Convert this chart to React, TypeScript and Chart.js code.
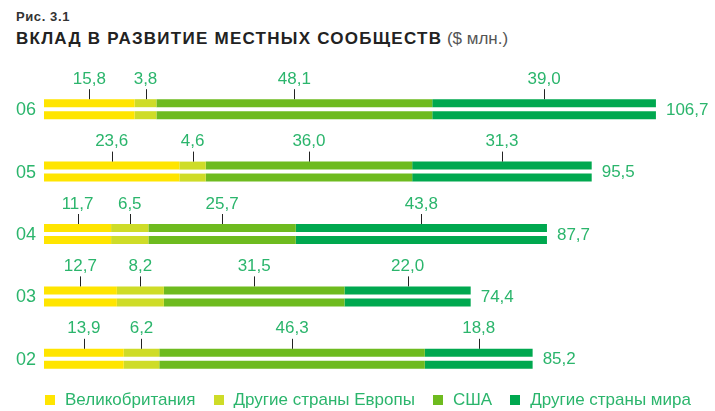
import React, { useEffect, useRef } from "react";
import { Chart, registerables } from "chart.js";

Chart.register(...registerables);

const categories = ["06", "05", "04", "03", "02"];
const seriesNames = ["Великобритания", "Другие страны Европы", "США", "Другие страны мира"];
const ukValues = [15.8, 23.6, 11.7, 12.7, 13.9];
const europeValues = [3.8, 4.6, 6.5, 8.2, 6.2];
const usaValues = [48.1, 36.0, 25.7, 31.5, 46.3];
const worldValues = [39.0, 31.3, 43.8, 22.0, 18.8];
const totals = [106.7, 95.5, 87.7, 74.4, 85.2];

const seriesValues = [ukValues, europeValues, usaValues, worldValues];
const seriesColors = ["#FFE500", "#CEDC28", "#6EBB1F", "#00A84F"];
const TEXT_GREEN = "#2BB56C";
const FONT = "'Liberation Sans', Arial, sans-serif";

const fmt = (v: number) => v.toFixed(1).replace(".", ",");

const labelPlugin = {
  id: "labelPlugin",
  afterDatasetsDraw(chart: any) {
    const ctx = chart.ctx;
    ctx.save();
    for (let s = 0; s < seriesValues.length; s++) {
      const meta = chart.getDatasetMeta(s);
      meta.data.forEach((bar: any, i: number) => {
        const { x, base, y, height } = bar.getProps(["x", "base", "y", "height"], true);
        const cx = (x + base) / 2;
        const top = y - height / 2;
        ctx.strokeStyle = "#222";
        ctx.lineWidth = 1;
        ctx.beginPath();
        ctx.moveTo(Math.round(cx) + 0.5, top - 10);
        ctx.lineTo(Math.round(cx) + 0.5, top);
        ctx.stroke();
        ctx.fillStyle = TEXT_GREEN;
        ctx.font = `17px ${FONT}`;
        ctx.textAlign = "center";
        ctx.textBaseline = "middle";
        ctx.fillText(fmt(seriesValues[s][i]), cx, top - 20);
      });
    }
    const yScale = chart.scales.y;
    const xScale = chart.scales.x;
    categories.forEach((cat, i) => {
      const cy = yScale.getPixelForValue(i);
      ctx.fillStyle = TEXT_GREEN;
      ctx.font = `17px ${FONT}`;
      ctx.textAlign = "left";
      ctx.textBaseline = "middle";
      ctx.fillText(fmt(totals[i]), xScale.getPixelForValue(totals[i]) + 10, cy + 1);
      ctx.font = `18px ${FONT}`;
      ctx.textAlign = "right";
      ctx.fillText(cat, 36, cy + 1);
    });
    ctx.restore();
  },
};

export default function App() {
  const canvasRef = useRef<HTMLCanvasElement>(null);

  useEffect(() => {
    document.body.style.margin = "0";
    const datasets: any[] = [];
    ["a", "b"].forEach((stack) => {
      seriesValues.forEach((vals, s) => {
        datasets.push({
          label: seriesNames[s],
          data: vals,
          backgroundColor: seriesColors[s],
          borderWidth: 0,
          stack,
        });
      });
    });
    const chart = new Chart(canvasRef.current!, {
      type: "bar",
      data: { labels: categories, datasets },
      options: {
        indexAxis: "y",
        animation: false,
        responsive: false,
        maintainAspectRatio: false,
        layout: { padding: { left: 44, right: 0, top: 78, bottom: 21 } },
        datasets: { bar: { categoryPercentage: 0.3846, barPercentage: 0.6667 } },
        scales: {
          x: { stacked: true, min: 0, max: 117, display: false },
          y: { display: false },
        },
        plugins: {
          legend: { display: false },
          tooltip: { enabled: false },
        },
      } as any,
      plugins: [labelPlugin],
    });
    return () => chart.destroy();
  }, []);

  return (
    <div style={{ position: "relative", width: 715, height: 411, background: "#fff", fontFamily: FONT }}>
      <div style={{ position: "absolute", left: 16, top: 9, fontSize: 13, fontWeight: "bold", color: "#333", letterSpacing: 0.6 }}>
        Рис. 3.1
      </div>
      <div style={{ position: "absolute", left: 16, top: 29, fontSize: 17, whiteSpace: "nowrap" }}>
        <span style={{ fontWeight: "bold", color: "#222", letterSpacing: 1.25 }}>ВКЛАД В РАЗВИТИЕ МЕСТНЫХ СООБЩЕСТВ</span>
        <span style={{ color: "#555" }}> ($ млн.)</span>
      </div>
      <canvas ref={canvasRef} width={715} height={411} style={{ position: "absolute", left: 0, top: 0 }} />
      <div style={{ position: "absolute", left: 45, top: 390, display: "flex", alignItems: "center", whiteSpace: "nowrap" }}>
        {seriesNames.map((name, i) => (
          <div key={name} style={{ display: "flex", alignItems: "center", marginRight: 18 }}>
            <span style={{ display: "inline-block", width: 10, height: 10, background: seriesColors[i], marginRight: 10 }} />
            <span style={{ fontSize: 17, color: TEXT_GREEN, lineHeight: "20px" }}>{name}</span>
          </div>
        ))}
      </div>
    </div>
  );
}
